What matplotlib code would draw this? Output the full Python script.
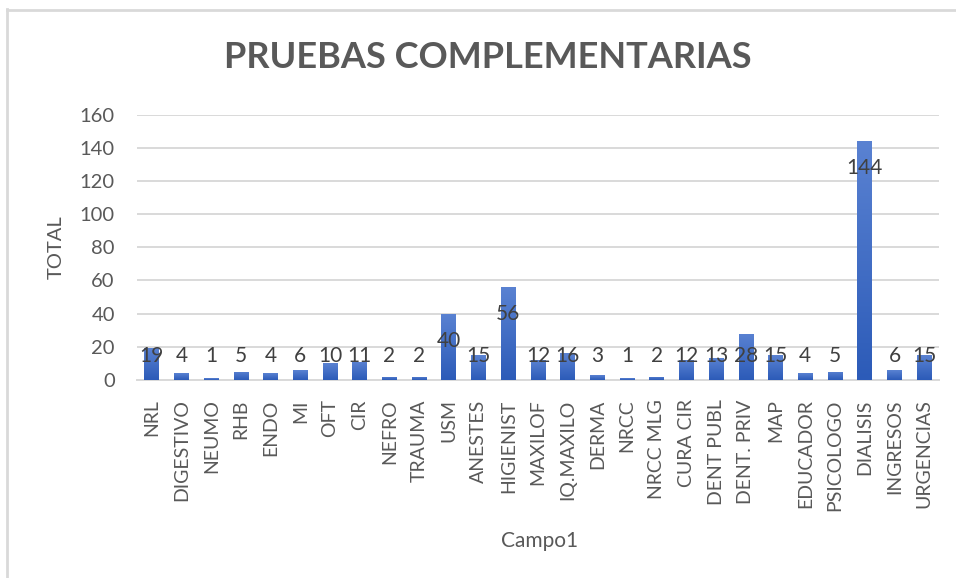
import matplotlib
matplotlib.use("Agg")
import matplotlib.pyplot as plt
import numpy as np
from matplotlib.lines import Line2D
from matplotlib.colors import LinearSegmentedColormap

categories = ["NRL", "DIGESTIVO", "NEUMO", "RHB", "ENDO", "MI", "OFT", "CIR", "NEFRO",
              "TRAUMA", "USM", "ANESTES", "HIGIENIST", "MAXILOF", "IQ.MAXILO", "DERMA",
              "NRCC", "NRCC MLG", "CURA CIR", "DENT PUBL", "DENT. PRIV", "MAP", "EDUCADOR",
              "PSICOLOGO", "DIALISIS", "INGRESOS", "URGENCIAS"]
values = [19, 4, 1, 5, 4, 6, 10, 11, 2, 2, 40, 15, 56, 12, 16, 3, 1, 2, 12, 13, 28, 15, 4, 5,
          144, 6, 15]
yticks = [0, 20, 40, 60, 80, 100, 120, 140, 160]

W, H = 956, 578
fig = plt.figure(figsize=(W / 100, H / 100), dpi=100)
plt.rcParams['font.family'] = ['Lato', 'DejaVu Sans']

# outer chart border (left and top visible)
fig.add_artist(Line2D([7 / W, 7 / W], [0, 1 - 9 / H], transform=fig.transFigure,
                      color="#d9d9d9", lw=2))
fig.add_artist(Line2D([7 / W, 1], [1 - 9.5 / H, 1 - 9.5 / H], transform=fig.transFigure,
                      color="#d9d9d9", lw=2))

x0, x1 = 137, 939
ytop, ybot = 114.5, 380
ax = fig.add_axes([x0 / W, 1 - ybot / H, (x1 - x0) / W, (ybot - ytop) / H])

x = np.arange(len(categories))
bars = ax.bar(x, values, width=0.5, color="#3b67c4", zorder=3)

# gradient fill on bars
grad = np.linspace(0, 1, 256).reshape(-1, 1)
cmap = LinearSegmentedColormap.from_list("g", ["#2c5bb8", "#5a82d2"])
for b in bars:
    bx, by = b.get_x(), b.get_y()
    bw, bh = b.get_width(), b.get_height()
    if bh <= 0:
        continue
    im = ax.imshow(grad, extent=[bx, bx + bw, by, by + bh], origin="lower", cmap=cmap,
                   aspect="auto", zorder=3.5)
    im.set_clip_path(b)

ax.set_xlim(-0.5, len(categories) - 0.5)
ax.set_ylim(0, 160)
ax.set_yticks(yticks)
ax.yaxis.grid(True, color="#d9d9d9", lw=1.4, zorder=0)
ax.set_axisbelow(True)
for s in ["top", "right", "left"]:
    ax.spines[s].set_visible(False)
ax.spines["bottom"].set_color("#d9d9d9")
ax.spines["bottom"].set_linewidth(1.4)
ax.tick_params(axis="both", length=0, colors="#595959")
ax.tick_params(axis="y", pad=16, labelsize=14.5)
ax.set_xticks(x)
ax.set_xticklabels(categories, rotation=90, color="#595959", fontsize=14)
ax.tick_params(axis="x", pad=14)

for i, v in enumerate(values):
    ax.text(i, max(v - 16.5, 14.5), str(v), ha="center", va="center", fontsize=15,
            color="#404040", zorder=5)

ax.set_ylabel("TOTAL", color="#595959", fontsize=14.5)
ax.yaxis.set_label_coords(-0.09, 0.5)
fig.text(540 / W, 1 - 541 / H, "Campo1", ha="center", va="center", color="#595959",
         fontsize=15)
fig.text(488 / W, 1 - 58 / H, "PRUEBAS COMPLEMENTARIAS", ha="center", va="center",
         color="#595959", fontsize=26, fontweight="bold")

fig.savefig("out.png", dpi=100, facecolor="white")
